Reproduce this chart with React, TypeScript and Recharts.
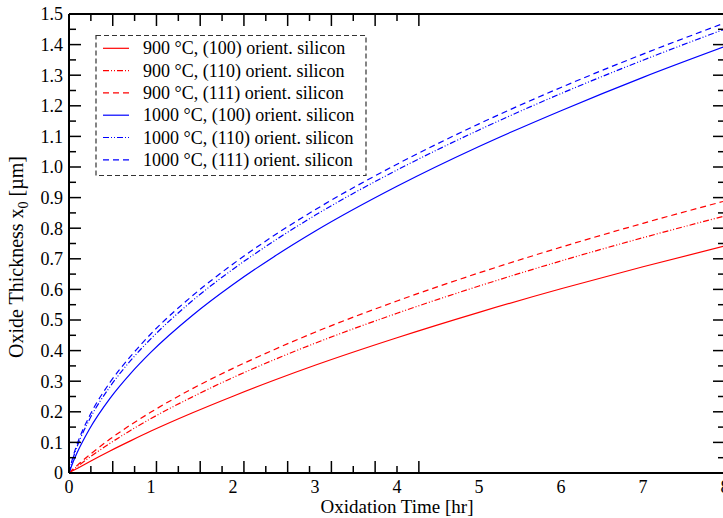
import React from "react";
import { LineChart, Line, XAxis, YAxis, Legend } from "recharts";

const TIMES = [0, 0.05, 0.1, 0.25, 0.5, 0.75, 1, 1.5, 2, 2.5, 3, 4, 5, 6, 7, 8];
const RED_100 = [0, 0.008, 0.015, 0.037, 0.072, 0.105, 0.137, 0.196, 0.251, 0.303, 0.352, 0.442, 0.525, 0.602, 0.674, 0.742];
const RED_110 = [0, 0.011, 0.021, 0.051, 0.097, 0.139, 0.178, 0.248, 0.312, 0.37, 0.424, 0.522, 0.611, 0.693, 0.769, 0.84];
const RED_111 = [0, 0.013, 0.025, 0.059, 0.111, 0.157, 0.199, 0.275, 0.342, 0.403, 0.46, 0.562, 0.654, 0.738, 0.816, 0.889];
const BLUE_100 = [0, 0.036, 0.067, 0.144, 0.244, 0.325, 0.395, 0.514, 0.616, 0.707, 0.79, 0.937, 1.067, 1.184, 1.293, 1.394];
const BLUE_110 = [0, 0.049, 0.087, 0.175, 0.282, 0.367, 0.439, 0.562, 0.666, 0.758, 0.842, 0.99, 1.121, 1.24, 1.349, 1.451];
const BLUE_111 = [0, 0.054, 0.095, 0.186, 0.296, 0.381, 0.455, 0.578, 0.683, 0.776, 0.86, 1.009, 1.141, 1.26, 1.369, 1.471];

const X_TICKS = [0, 1, 2, 3, 4, 5, 6, 7, 8];
const X_MINOR = [0.5, 1.5, 2.5, 3.5, 4.5, 5.5, 6.5, 7.5];
const Y_TICKS = [0, 0.1, 0.2, 0.3, 0.4, 0.5, 0.6, 0.7, 0.8, 0.9, 1.0, 1.1, 1.2, 1.3, 1.4, 1.5];
const Y_MINOR = [0.05, 0.15, 0.25, 0.35, 0.45, 0.55, 0.65, 0.75, 0.85, 0.95, 1.05, 1.15, 1.25, 1.35, 1.45];

const SERIES = [
  { key: "r100", name: "900 °C, (100) orient. silicon", color: "#ff0000", dash: undefined as string | undefined, values: RED_100 },
  { key: "r110", name: "900 °C, (110) orient. silicon", color: "#ff0000", dash: "6 2 1 2 1 2", values: RED_110 },
  { key: "r111", name: "900 °C, (111) orient. silicon", color: "#ff0000", dash: "6 4", values: RED_111 },
  { key: "b100", name: "1000 °C, (100) orient. silicon", color: "#0000ff", dash: undefined as string | undefined, values: BLUE_100 },
  { key: "b110", name: "1000 °C, (110) orient. silicon", color: "#0000ff", dash: "6 2 1 2 1 2", values: BLUE_110 },
  { key: "b111", name: "1000 °C, (111) orient. silicon", color: "#0000ff", dash: "6 4", values: BLUE_111 },
];

const data = TIMES.map((t, i) => {
  const row: Record<string, number> = { t };
  SERIES.forEach((s) => {
    row[s.key] = s.values[i];
  });
  return row;
});

const FONT = "'Liberation Serif', 'Times New Roman', serif";
const empty = () => <g />;

const renderLegend = () => (
  <svg width={272} height={143} style={{ display: "block" }}>
    <rect x={1} y={1.5} width={270} height={140} fill="#fff" stroke="#333" strokeWidth={1.2} strokeDasharray="5 3" />
    {SERIES.map((s, i) => {
      const cy = 14.3 + 22.3 * i;
      return (
        <g key={s.key}>
          <line x1={8} x2={34} y1={cy} y2={cy} stroke={s.color} strokeWidth={1.2} strokeDasharray={s.dash} />
          <text x={48} y={cy + 6} fontFamily={FONT} fontSize={18} fill="#000">
            {s.name}
          </text>
        </g>
      );
    })}
  </svg>
);

const yTitle = () => (
  <text x={23} y={257} transform="rotate(-90 23 257)" textAnchor="middle" fontFamily={FONT} fontSize={20} fill="#000">
    Oxide Thickness x<tspan dy={5} fontSize={14}>0</tspan>
    <tspan dy={-5}> [µm]</tspan>
  </text>
);

const xTitle = (props: any) => {
  const vb = props.viewBox || { x: 69, y: 473, width: 656 };
  return (
    <text x={vb.x + vb.width / 2} y={vb.y + 40} textAnchor="middle" fontFamily={FONT} fontSize={19} fill="#000">
      Oxidation Time [hr]
    </text>
  );
};

const fmtY = (v: number) => (v === 0 ? "0" : v.toFixed(1));

export default function App() {
  const tickStyle = { fontFamily: FONT, fontSize: 18, fill: "#000" };
  const tl = { stroke: "#000", strokeWidth: 1.5 };
  return (
    <div style={{ position: "absolute", left: 0, top: 0, width: 723, height: 518, overflow: "hidden", background: "#fff" }}>
      <LineChart width={726} height={518} data={data} margin={{ top: 14, right: 1, left: 0, bottom: 0 }}>
        <XAxis xAxisId="bMaj" type="number" domain={[0, 8]} ticks={X_TICKS} interval={0} orientation="bottom" mirror height={1} tick={empty} tickSize={12} tickLine={tl} axisLine={false} allowDataOverflow />
        <XAxis xAxisId="bMin" type="number" domain={[0, 8]} ticks={X_MINOR} interval={0} orientation="bottom" mirror height={1} tick={empty} tickSize={6} tickLine={tl} axisLine={false} allowDataOverflow />
        <XAxis xAxisId="tMaj" type="number" domain={[0, 8]} ticks={X_TICKS} interval={0} orientation="top" mirror height={1} tick={empty} tickSize={12} tickLine={tl} axisLine={{ stroke: "#000", strokeWidth: 2 }} allowDataOverflow />
        <XAxis xAxisId="tMin" type="number" domain={[0, 8]} ticks={X_MINOR} interval={0} orientation="top" mirror height={1} tick={empty} tickSize={6} tickLine={tl} axisLine={false} allowDataOverflow />
        <XAxis
          xAxisId="x"
          dataKey="t"
          type="number"
          domain={[0, 8]}
          ticks={X_TICKS}
          interval={0}
          height={45}
          tickSize={0}
          tickMargin={7}
          tickLine={false}
          tick={tickStyle}
          axisLine={{ stroke: "#000", strokeWidth: 2 }}
          label={{ content: xTitle }}
          allowDataOverflow
        />
        <YAxis yAxisId="lMaj" type="number" domain={[0, 1.5]} ticks={Y_TICKS} interval={0} orientation="left" mirror width={1} tick={empty} tickSize={12} tickLine={tl} axisLine={false} allowDataOverflow />
        <YAxis yAxisId="lMin" type="number" domain={[0, 1.5]} ticks={Y_MINOR} interval={0} orientation="left" mirror width={1} tick={empty} tickSize={6} tickLine={tl} axisLine={false} allowDataOverflow />
        <YAxis yAxisId="rMaj" type="number" domain={[0, 1.5]} ticks={Y_TICKS} interval={0} orientation="right" mirror width={1} tick={empty} tickSize={12} tickLine={tl} axisLine={{ stroke: "#000", strokeWidth: 2 }} allowDataOverflow />
        <YAxis yAxisId="rMin" type="number" domain={[0, 1.5]} ticks={Y_MINOR} interval={0} orientation="right" mirror width={1} tick={empty} tickSize={6} tickLine={tl} axisLine={false} allowDataOverflow />
        <YAxis
          yAxisId="y"
          type="number"
          domain={[0, 1.5]}
          ticks={Y_TICKS}
          interval={0}
          width={69}
          tickSize={0}
          tickMargin={6}
          tickLine={false}
          tick={tickStyle}
          tickFormatter={fmtY}
          axisLine={{ stroke: "#000", strokeWidth: 2 }}
          label={{ content: yTitle }}
          allowDataOverflow
        />
        {SERIES.map((s) => (
          <Line
            key={s.key}
            xAxisId="x"
            yAxisId="y"
            dataKey={s.key}
            name={s.name}
            type="monotone"
            stroke={s.color}
            strokeWidth={1.2}
            strokeDasharray={s.dash}
            dot={false}
            activeDot={false}
            isAnimationActive={false}
          />
        ))}
        <Legend
          layout="vertical"
          align="center"
          verticalAlign="middle"
          content={renderLegend}
          wrapperStyle={{ left: 95, top: 34, width: 272, height: 143 }}
        />
      </LineChart>
    </div>
  );
}
